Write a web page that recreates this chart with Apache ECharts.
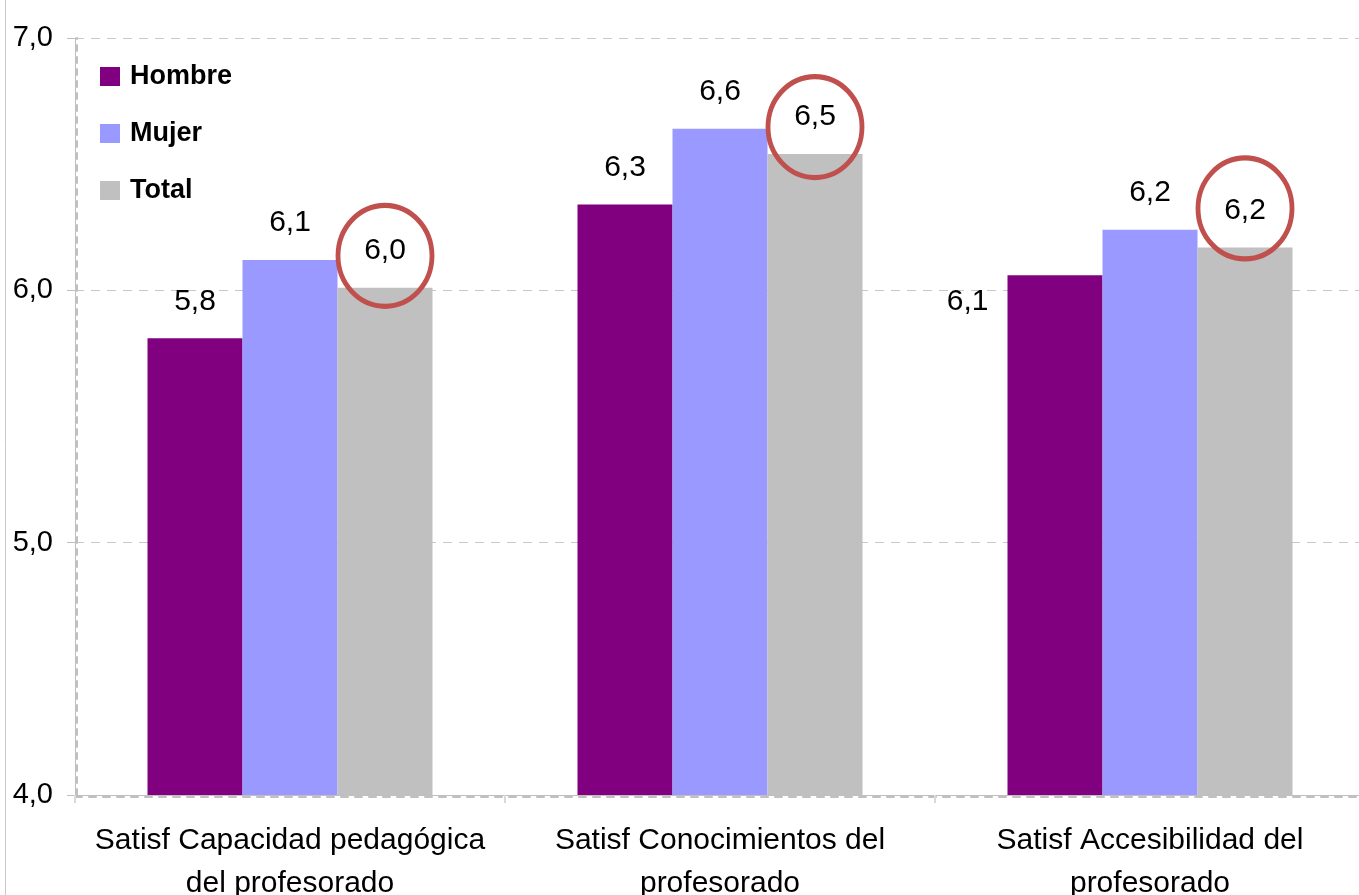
<!DOCTYPE html>
<html>
<head>
<meta charset="utf-8">
<style>
  html, body { margin: 0; padding: 0; background: #fff; }
  #chart { width: 1359px; height: 895px; }
</style>
<script src="https://cdn.jsdelivr.net/npm/echarts@6/dist/echarts.min.js"></script>
</head>
<body>
<div id="chart"></div>
<script>
// Satisfacción con el profesorado, por sexo
const categories = [
  'Satisf Capacidad pedagógica\ndel profesorado',
  'Satisf Conocimientos del\nprofesorado',
  'Satisf Accesibilidad del\nprofesorado'
];
const seriesNames = ['Hombre', 'Mujer', 'Total'];
const hombre = [5.81, 6.34, 6.06];
const mujer  = [6.12, 6.64, 6.24];
const total  = [6.01, 6.54, 6.17];
const yTicks = [4, 5, 6, 7];

// vertical nudge of each highlight ring above its bar top
const ringOffsets = [-32, -27, -39];

const FONT = "'Liberation Sans', Arial, sans-serif";
const fmt = v => v.toFixed(1).replace('.', ',');

const chart = echarts.init(document.getElementById('chart'), null, { renderer: 'canvas' });

const baseLabel = {
  show: true,
  position: 'top',
  distance: 22,
  fontFamily: FONT,
  fontSize: 30,
  color: '#000',
  formatter: p => fmt(p.value)
};

const hombreData = hombre.map((v, i) => {
  if (i === 2) {
    return {
      value: v,
      label: { position: [-19, 27], align: 'right', verticalAlign: 'middle' }
    };
  }
  return v;
});

const option = {
  backgroundColor: '#fff',
  animation: false,
  color: ['#800080', '#9999FF', '#C0C0C0'],
  grid: { left: 75, top: 38, width: 1290, height: 757, outerBoundsMode: 'none', containLabel: false },
  graphic: [{
    type: 'line',
    shape: { x1: 5.5, y1: 0, x2: 5.5, y2: 895 },
    style: { stroke: '#C8C8C8', lineWidth: 1 }
  }],
  legend: {
    data: seriesNames,
    orient: 'vertical',
    left: 100,
    top: 63,
    padding: 0,
    itemWidth: 20,
    itemHeight: 19,
    itemGap: 30,
    icon: 'rect',
    textStyle: { fontFamily: FONT, fontSize: 27, fontWeight: 'bold', color: '#000', padding: [0, 0, 0, 5] }
  },
  xAxis: [{
    type: 'category',
    data: categories,
    axisLine: { show: true, lineStyle: { color: '#BFBFBF', width: 1 } },
    axisTick: { show: true, length: 8, lineStyle: { color: '#D9D9D9', width: 2 } },
    axisLabel: {
      fontFamily: FONT, fontSize: 30, color: '#000',
      lineHeight: 43, margin: 24, interval: 0
    },
    splitLine: { show: false }
  }, {
    type: 'category',
    data: categories,
    position: 'bottom',
    offset: 2,
    axisLine: { show: true, lineStyle: { color: '#C0C0C0', width: 2, type: [7, 7] } },
    axisTick: { show: false },
    axisLabel: { show: false },
    splitLine: { show: false }
  }],
  yAxis: [{
    type: 'value',
    min: yTicks[0],
    max: yTicks[yTicks.length - 1],
    interval: 1,
    axisLine: { show: true, lineStyle: { color: '#BFBFBF', width: 1 } },
    axisTick: { show: true, length: 8, lineStyle: { color: '#BFBFBF' } },
    axisLabel: { formatter: fmt, fontFamily: FONT, fontSize: 29, color: '#000', margin: 22 },
    splitLine: { show: true, lineStyle: { color: '#C8C8C8', width: 1, type: [9, 7] } }
  }, {
    type: 'value',
    min: yTicks[0],
    max: yTicks[yTicks.length - 1],
    interval: 1,
    position: 'left',
    offset: -2,
    axisLine: { show: true, lineStyle: { color: '#C0C0C0', width: 2, type: [6, 6] } },
    axisTick: { show: false },
    axisLabel: { show: false },
    splitLine: { show: false }
  }],
  series: [{
    name: seriesNames[0],
    type: 'bar',
    data: hombreData,
    barWidth: 95,
    barGap: '0%',
    label: baseLabel
  }, {
    name: seriesNames[1],
    type: 'bar',
    data: mujer,
    barWidth: 95,
    barGap: '0%',
    label: baseLabel
  }, {
    name: seriesNames[2],
    type: 'bar',
    data: total,
    barWidth: 95,
    barGap: '0%',
    label: baseLabel,
    markPoint: {
      symbol: 'circle',
      symbolSize: [94, 101],
      silent: true,
      itemStyle: { color: 'rgba(0,0,0,0)', borderColor: '#C0504D', borderWidth: 5 },
      label: { show: false },
      data: total.map((v, i) => ({ coord: [i, v], symbolOffset: [0, ringOffsets[i]] }))
    }
  }]
};

chart.setOption(option);
</script>
</body>
</html>
